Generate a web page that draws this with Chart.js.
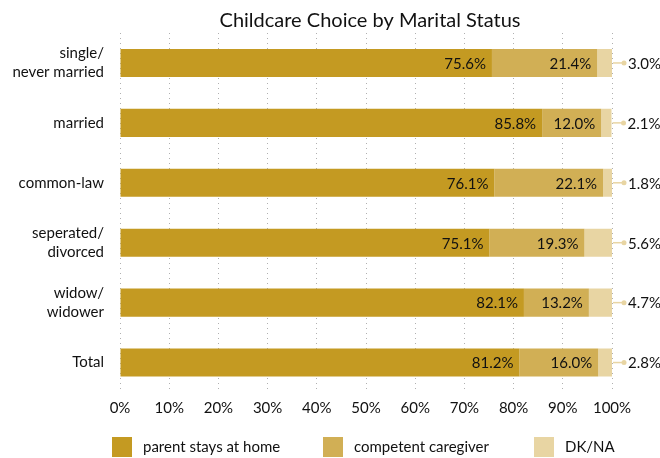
<!DOCTYPE html>
<html>
<head>
<meta charset="utf-8">
<script src="https://cdn.jsdelivr.net/npm/chart.js@4"></script>
<style>
  body { margin: 0; background: #fff; }
  #wrap { width: 660px; height: 458px; }
</style>
</head>
<body>
<div id="wrap"><canvas id="myChart" width="660" height="458"></canvas></div>
<script>
// Données du graphique
const categories = [['single/', 'never married'], 'married', 'common-law', ['seperated/', 'divorced'], ['widow/', 'widower'], 'Total'];
const parentHome = [75.6, 85.8, 76.1, 75.1, 82.1, 81.2];
const caregiver = [21.4, 12.0, 22.1, 19.3, 13.2, 16.0];
const dkna = [3.0, 2.1, 1.8, 5.6, 4.7, 2.8];
const seriesNames = ['parent stays at home', 'competent caregiver', 'DK/NA'];
const colors = ['#c49a22', '#d1af55', '#e8d5a3'];
const titleText = 'Childcare Choice by Marital Status';

const FONT = 'Lato, "Open Sans", sans-serif';

// Plugin pour les étiquettes de valeurs
const valueLabels = {
  id: 'valueLabels',
  afterDatasetsDraw(chart) {
    const ctx = chart.ctx;
    ctx.save();
    ctx.font = '15px ' + FONT;
    ctx.textBaseline = 'middle';
    chart.data.datasets.forEach((ds, i) => {
      const meta = chart.getDatasetMeta(i);
      meta.data.forEach((bar, j) => {
        const txt = ds.data[j].toFixed(1) + '%';
        if (i < 2) {
          ctx.fillStyle = '#111';
          ctx.textAlign = 'right';
          ctx.fillText(txt, bar.x - 6, bar.y + 1);
        } else {
          // petite ligne avec un point vers l'étiquette
          ctx.strokeStyle = colors[2];
          ctx.lineWidth = 1.5;
          ctx.beginPath();
          ctx.moveTo(bar.x + 1, bar.y);
          ctx.lineTo(bar.x + 11, bar.y);
          ctx.stroke();
          ctx.fillStyle = colors[2];
          ctx.beginPath();
          ctx.arc(bar.x + 12, bar.y, 2.5, 0, Math.PI * 2);
          ctx.fill();
          ctx.fillStyle = '#111';
          ctx.textAlign = 'left';
          ctx.fillText(txt, bar.x + 16, bar.y + 1);
        }
      });
    });
    ctx.restore();
  }
};

// Titre et légende dessinés à la main (centrés sur la zone du graphique)
const titleLegend = {
  id: 'titleLegend',
  afterDraw(chart) {
    const ctx = chart.ctx;
    const area = chart.chartArea;
    ctx.save();
    ctx.fillStyle = '#111';
    ctx.font = '20px ' + FONT;
    ctx.textAlign = 'center';
    ctx.textBaseline = 'alphabetic';
    ctx.fillText(titleText, (area.left + area.right) / 2 + 4, 27);

    ctx.font = '15px ' + FONT;
    ctx.textAlign = 'left';
    ctx.textBaseline = 'middle';
    seriesNames.forEach((name, i) => {
      const x = area.left - 8 + i * 211;
      ctx.fillStyle = colors[i];
      ctx.fillRect(x, 437, 20, 20);
      ctx.fillStyle = '#111';
      ctx.fillText(name, x + 31, 447);
    });
    ctx.restore();
  }
};

const ctx = document.getElementById('myChart').getContext('2d');

const myChart = new Chart(ctx, {
  type: 'bar',
  data: {
    labels: categories,
    datasets: [parentHome, caregiver, dkna].map((d, i) => ({
      label: seriesNames[i],
      data: d,
      backgroundColor: colors[i],
      borderWidth: 0,
      barPercentage: 0.94,
      categoryPercentage: 0.5
    }))
  },
  options: {
    indexAxis: 'y',
    responsive: false,
    animation: false,
    layout: { padding: { left: 0, right: 48, top: 33, bottom: 0 } },
    scales: {
      x: {
        stacked: true,
        min: 0,
        max: 100,
        grid: {
          color: '#b0b0b0',
          lineWidth: 1,
          drawTicks: false
        },
        border: { display: false, dash: [1, 4] },
        ticks: {
          stepSize: 10,
          color: '#111',
          padding: 7,
          font: { size: 15, family: FONT },
          callback: v => v + '%'
        },
        afterFit(scale) { scale.height = 65.5; }
      },
      y: {
        stacked: true,
        grid: { display: false },
        border: { display: false },
        ticks: {
          color: '#111',
          padding: 8,
          font: { size: 15, family: FONT, lineHeight: 1.25 }
        },
        afterFit(scale) { scale.width = 120; }
      }
    },
    plugins: {
      title: { display: false },
      legend: { display: false },
      tooltip: { enabled: false }
    }
  },
  plugins: [valueLabels, titleLegend]
});
</script>
</body>
</html>
